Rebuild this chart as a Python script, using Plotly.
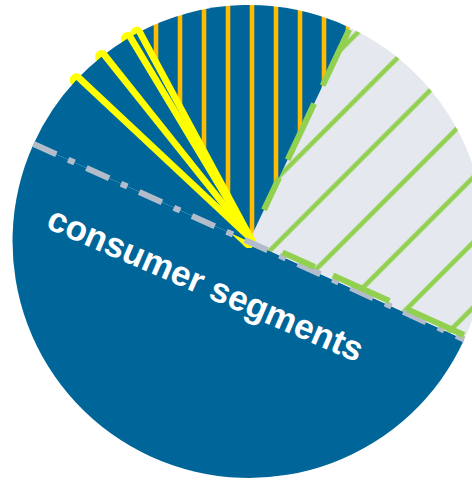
import math
import plotly.graph_objects as go

# ---- data ----
labels = ["consumer segments", "segment B", "segment C", "marker 1", "segment D",
          "marker 2", "segment E", "marker 3", "segment F", "marker 4", "segment G"]
values = [50.0, 24.8, 14.9, 0.02, 0.7, 0.02, 2.1, 0.02, 2.3, 0.02, 5.2]
label_text = "consumer segments"

# ---- styles ----
BLUE = "#006699"
GREY = "#e5e8ee"
GREEN = "#92d050"
ORANGE = "#ffbb00"
YELLOW = "#ffff00"
EDGE_GREY = "#b3bccb"

fill_colors = [BLUE, GREY, BLUE, BLUE, BLUE, BLUE, BLUE, BLUE, BLUE, BLUE, BLUE]
pat_shape = ["", "/", "|", "", "", "", "", "", "", "", ""]
pat_fg = [BLUE, GREEN, ORANGE, BLUE, BLUE, BLUE, BLUE, BLUE, BLUE, BLUE, BLUE]
pat_bg = [BLUE, GREY, BLUE, BLUE, BLUE, BLUE, BLUE, BLUE, BLUE, BLUE, BLUE]
pat_size = [10, 46, 24, 10, 10, 10, 10, 10, 10, 10, 10]
pat_solid = [0.3, 0.1, 0.19, 0.3, 0.3, 0.3, 0.3, 0.3, 0.3, 0.3, 0.3]
line_colors = [BLUE, GREY, BLUE, YELLOW, BLUE, YELLOW, BLUE, YELLOW, BLUE, YELLOW, BLUE]
line_widths = [0, 0, 0, 13, 0, 13, 0, 13, 0, 13, 0]

W, H = 498, 483
ROTATION = 114.5
DOM_Y = [0.0104, 0.9896]

fig = go.Figure(go.Pie(
    labels=labels,
    values=values,
    textinfo="none",
    sort=False,
    direction="counterclockwise",
    rotation=ROTATION,
    marker=dict(
        colors=fill_colors,
        line=dict(color=line_colors, width=line_widths),
        pattern=dict(shape=pat_shape, fgcolor=pat_fg, bgcolor=pat_bg,
                     size=pat_size, solidity=pat_solid, fillmode="replace"),
    ),
    hoverinfo="none",
    showlegend=False,
    domain=dict(x=[0, 1], y=DOM_Y),
))

# ---- slice-edge styling derived from the pie geometry ----
cx = W / 2.0
top_px = (1 - DOM_Y[1]) * H
bot_px = (1 - DOM_Y[0]) * H
cy = (top_px + bot_px) / 2.0
R = min(W, bot_px - top_px) / 2.0
total = sum(values)
deg = 360.0 / total
cum = [sum(values[:k]) for k in range(len(values) + 1)]


def edge_theta(k):
    # clockwise-from-12-o'clock angle of boundary before slice k (plotly ccw layout)
    return math.radians(ROTATION + values[0] * deg - cum[k] * deg)


def to_paper(px, py):
    return px / W, 1 - py / H


def edge_point(k, rad, offset=0.0):
    t = edge_theta(k)
    ux, uy = math.sin(t), -math.cos(t)
    nx, ny = -uy, ux  # perpendicular
    return to_paper(cx + rad * ux + offset * nx, cy + rad * uy + offset * ny)


shapes = []
# grey dash-dot border of the consumer slice (its two straight edges)
a = edge_point(0, R)
b = edge_point(1, R)
shapes.append(dict(type="line", xref="paper", yref="paper",
                   x0=a[0], y0=a[1], x1=b[0], y1=b[1],
                   line=dict(color=EDGE_GREY, width=6, dash="25px,13px,7px,13px")))
# green dashed border along the grey slice's straight edges
for k, off in [(1, -4.0), (2, 0.0)]:
    p0 = edge_point(k, R - 2, off)
    p1 = edge_point(k, 35, off)
    shapes.append(dict(type="line", xref="paper", yref="paper",
                       x0=p0[0], y0=p0[1], x1=p1[0], y1=p1[1],
                       line=dict(color=GREEN, width=6, dash="62px,20px")))

fig.update_layout(
    width=W, height=H, autosize=False,
    margin=dict(l=0, r=0, t=0, b=0),
    paper_bgcolor="white", plot_bgcolor="white",
    showlegend=False,
    shapes=shapes,
    annotations=[dict(
        text=label_text, xref="paper", yref="paper",
        x=206 / W, y=1 - 283 / H, xanchor="center", yanchor="middle",
        textangle=23.4, showarrow=False,
        font=dict(family="Liberation Sans, Arial, sans-serif", size=35,
                  color="white", weight="bold"),
    )],
)

fig.write_html("out.html",
               post_script="document.documentElement.style.overflow='hidden';"
                           "document.body.style.overflow='hidden';"
                           "document.body.style.margin='0';")
